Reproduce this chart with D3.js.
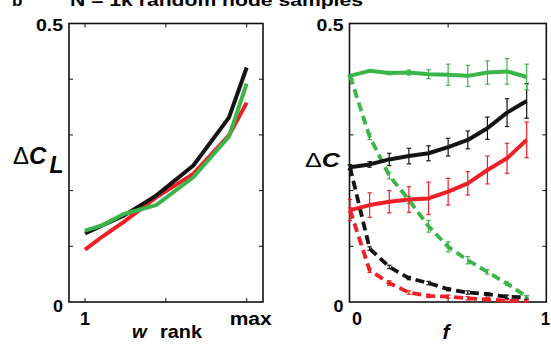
<!DOCTYPE html>
<html><head><meta charset="utf-8">
<script src="https://cdn.jsdelivr.net/npm/d3@7"></script>
<style>body{margin:0;background:#fff}svg{display:block;font-family:Arial,"Liberation Sans",sans-serif}</style>
</head><body><svg id="c" width="551" height="344"></svg>
<script>
// ---------- data ----------
const rankPos = [0, 0.11, 0.24, 0.44, 0.67, 0.89, 1];
const rankTicks = [0, 0.5, 1];
const rankTickLabels = ["1", "", "max"];
const leftBlack = [0.123, 0.138, 0.155, 0.191, 0.245, 0.331, 0.421];
const leftRed   = [0.094, 0.118, 0.144, 0.188, 0.230, 0.299, 0.358];
const leftGreen = [0.128, 0.138, 0.158, 0.174, 0.224, 0.297, 0.392];

const fVals = [0, 0.1, 0.2, 0.3, 0.4, 0.5, 0.6, 0.7, 0.8, 0.9];
const greenSolid = [0.406, 0.415, 0.411, 0.412, 0.409, 0.408, 0.406, 0.412, 0.414, 0.404];
const greenSolidErr = [0.002, 0.002, 0.003, 0.0045, 0.008, 0.019, 0.019, 0.021, 0.023, 0.023];
const blackSolid = [0.242, 0.247, 0.256, 0.262, 0.267, 0.278, 0.291, 0.312, 0.340, 0.361];
const blackSolidErr = [0.0045, 0.005, 0.011, 0.014, 0.0135, 0.016, 0.016, 0.020, 0.025, 0.031];
const redSolid = [0.165, 0.174, 0.180, 0.184, 0.186, 0.198, 0.213, 0.237, 0.258, 0.291];
const redSolidErr = [0.019, 0.022, 0.020, 0.023, 0.029, 0.024, 0.021, 0.025, 0.027, 0.032];
const greenDash = [0.406, 0.297, 0.227, 0.183, 0.136, 0.099, 0.075, 0.054, 0.033, 0.0095];
const greenDashErr = [0.001, 0.0055, 0.006, 0.0066, 0.0105, 0.009, 0.0066, 0.004, 0.003, 0.002];
const blackDash = [0.242, 0.096, 0.063, 0.043, 0.034, 0.023, 0.017, 0.014, 0.0095, 0.0084];
const blackDashErr = [0.003, 0.003, 0.003, 0.003, 0.003, 0.003, 0.003, 0.003, 0.003, 0.003];
const redDash = [0.165, 0.057, 0.034, 0.017, 0.011, 0.0095, 0.0066, 0.0048, 0.0023, 0.0018];
const redDashErr = [0.004, 0.004, 0.004, 0.003, 0.003, 0.003, 0.003, 0.003, 0.002, 0.002];
const yTicks = [0, 0.1, 0.2, 0.3, 0.4, 0.5];
const fTicks = [0, 0.5, 1];

const BLACK = "#141414", RED = "#ee2027", GREEN = "#3bb54a";

const svg = d3.select("#c");
const y = d3.scaleLinear().domain([0, 0.5]).range([302, 23.5]);

// title (cut off at the top edge, as in the reference)
svg.append("text").attr("x", 12).attr("y", 6).attr("font-size", 17).attr("font-weight", "bold").text("b");
svg.append("text").attr("x", 70).attr("y", 6).attr("font-size", 17).attr("font-weight", "bold")
  .attr("textLength", 293).attr("lengthAdjust", "spacingAndGlyphs").text("N = 1k random node samples");

function bold(x, yy, txt, size, len, anchor) {
  const t = svg.append("text").attr("x", x).attr("y", yy).attr("font-size", size)
    .attr("font-weight", "bold").attr("text-anchor", anchor || "middle").text(txt);
  if (len) t.attr("textLength", len).attr("lengthAdjust", "spacingAndGlyphs");
  return t;
}

function frame(x0, x1, xTickPos) {
  const g = svg.append("g");
  g.append("rect").attr("x", x0).attr("y", y(0.5)).attr("width", x1 - x0).attr("height", y(0) - y(0.5))
    .attr("fill", "none").attr("stroke", "#111").attr("stroke-width", 1.6);
  yTicks.slice(1, -1).forEach(t => {
    g.append("line").attr("x1", x0).attr("x2", x0 + 4).attr("y1", y(t)).attr("y2", y(t)).attr("stroke", "#111");
    g.append("line").attr("x1", x1).attr("x2", x1 - 4).attr("y1", y(t)).attr("y2", y(t)).attr("stroke", "#111");
  });
  xTickPos.forEach(px => {
    g.append("line").attr("x1", px).attr("x2", px).attr("y1", y(0)).attr("y2", y(0) - 4).attr("stroke", "#111");
    g.append("line").attr("x1", px).attr("x2", px).attr("y1", y(0.5)).attr("y2", y(0.5) + 4).attr("stroke", "#111");
  });
  bold(x0 - 6, y(0.5) + 7, "0.5", 16, 27, "end");
  bold(x0 - 6, y(0) + 10, "0", 16, 10, "end");
}

// ---------- left panel ----------
const xL = d3.scaleLinear().domain([0, 1]).range([85, 246.7]);
frame(69, 263, rankTicks.map(xL));
rankTicks.forEach((t, i) => {
  if (!rankTickLabels[i]) return;
  if (i === 0) bold(xL(t), 325, rankTickLabels[i], 18, 10);
  else bold(xL(t) + 4, 325, rankTickLabels[i], 18, 42);
});
const lineL = d3.line().x((d, i) => xL(rankPos[i])).y(d => y(d));
[[leftRed, RED], [leftBlack, BLACK], [leftGreen, GREEN]].forEach(([arr, c]) => {
  svg.append("path").attr("d", lineL(arr)).attr("fill", "none").attr("stroke", c)
    .attr("stroke-width", 4).attr("stroke-linejoin", "round");
});
const lt = svg.append("text").attr("x", 132).attr("y", 338)
  .attr("font-size", 19).attr("font-weight", "bold");
lt.append("tspan").attr("font-style", "italic").text("w");
lt.append("tspan").attr("x", 160).attr("textLength", 42).attr("lengthAdjust", "spacingAndGlyphs").text("rank");
const ylab = svg.append("text").attr("x", 13).attr("y", 164).attr("font-size", 24);
ylab.append("tspan").text("\u0394");
ylab.append("tspan").attr("font-weight", "bold").attr("font-style", "italic").text("C");
ylab.append("tspan").attr("font-style", "italic").attr("font-weight", "bold").attr("font-size", 23).attr("dy", 9).attr("dx", 3).text("L");

// ---------- right panel ----------
const xR = d3.scaleLinear().domain([0, 1]).range([350, 546.3]);
frame(349.5, 546.3, [xR(0.5)]);
fTicks.forEach(t => {
  if (t === 0.5) return;
  if (t === 0) bold(xR(t) + 7, 325, "0", 18, 10);
  else bold(545.5, 325, "1", 18, 9);
});
svg.append("text").attr("x", 446).attr("y", 339).attr("text-anchor", "middle")
  .attr("font-size", 21).attr("font-weight", "bold").attr("font-style", "italic").text("f");
const ylab2 = svg.append("text").attr("x", 305).attr("y", 167).attr("font-size", 20)
  .attr("textLength", 35).attr("lengthAdjust", "spacingAndGlyphs");
ylab2.append("tspan").text("\u0394");
ylab2.append("tspan").attr("font-weight", "bold").attr("font-style", "italic").text("C");

const lineR = d3.line().x((d, i) => xR(fVals[i])).y(d => y(d));
function series(vals, errs, color, dashed) {
  const g = svg.append("g");
  g.append("path").attr("d", lineR(vals)).attr("fill", "none").attr("stroke", color)
    .attr("stroke-width", dashed ? 3.8 : 4).attr("stroke-linejoin", "round")
    .attr("stroke-dasharray", dashed ? "9,5" : null);
  vals.forEach((v, i) => {
    const px = xR(fVals[i]), e = errs[i];
    g.append("line").attr("x1", px).attr("x2", px).attr("y1", y(v - e)).attr("y2", y(v + e))
      .attr("stroke", color).attr("stroke-width", 1.2);
    [v - e, v + e].forEach(w => g.append("line").attr("x1", px - 2.2).attr("x2", px + 2.2)
      .attr("y1", y(w)).attr("y2", y(w)).attr("stroke", color).attr("stroke-width", 1.2));
  });
}
series(redDash, redDashErr, RED, true);
series(blackDash, blackDashErr, BLACK, true);
series(greenDash, greenDashErr, GREEN, true);
series(redSolid, redSolidErr, RED, false);
series(blackSolid, blackSolidErr, BLACK, false);
series(greenSolid, greenSolidErr, GREEN, false);
</script></body></html>
